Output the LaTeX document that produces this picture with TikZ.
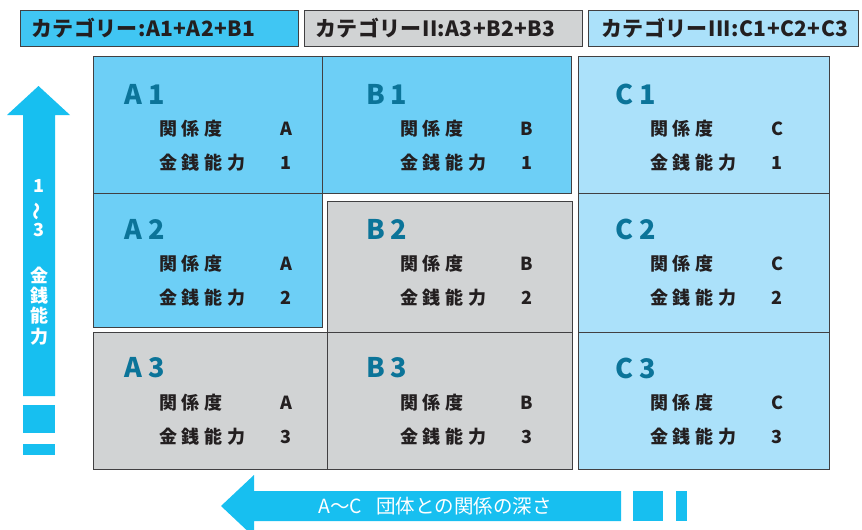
\documentclass[tikz,border=0pt]{standalone}
\usepackage{fontspec}
\setmainfont{Noto Sans CJK JP}
\newfontfamily\jpsp[LetterSpace=26]{Noto Sans CJK JP}
\newfontfamily\jpcat[LetterSpace=2]{Noto Sans CJK JP}
\definecolor{cBlue}{HTML}{6DCFF6}
\definecolor{cGray}{HTML}{D1D3D4}
\definecolor{cLight}{HTML}{ABE1FA}
\definecolor{cCat}{HTML}{40C6F3}
\definecolor{cArrow}{HTML}{17BFF0}
\definecolor{cLine}{HTML}{414042}
\definecolor{cLabel}{HTML}{0B7499}
\definecolor{cText}{HTML}{231F20}
\tikzset{
  cell/.style={draw=cLine, line width=0.9pt, inner sep=0pt, outer sep=0pt, anchor=north west},
  catbox/.style={draw=cLine, line width=0.9pt, inner sep=0pt, outer sep=0pt, anchor=north west, minimum height=36pt},
  cattext/.style={anchor=west, inner sep=0pt, font=\jpcat\bfseries\fontsize{21}{22}\selectfont, text=cText},
  celllab/.style={anchor=west, inner sep=0pt, font=\bfseries\fontsize{27}{28}\selectfont, text=cLabel},
  cellbody/.style={anchor=west, inner sep=0pt, font=\jpsp\bfseries\fontsize{18}{20}\selectfont, text=cText},
  cellval/.style={anchor=center, inner sep=0pt, font=\bfseries\fontsize{18}{20}\selectfont, text=cText},
  arrtext/.style={inner sep=0pt, text=white, font=\bfseries\fontsize{18}{19}\selectfont},
}
\newcommand\mycelltext[8]{%
  \node[celllab] (#1lab) at (#2,#5) {#6};
  \node[cellbody] (#1rel) at (#3,#5+35) {関係度};
  \node[cellval] (#1relv) at (#4,#5+35) {#7};
  \node[cellbody] (#1mon) at (#3,#5+69) {金銭能力};
  \node[cellval] (#1monv) at (#4,#5+69) {#8};
}
\begin{document}
\begin{tikzpicture}[x=1pt,y=-1pt]
\useasboundingbox (0,0) rectangle (862,530);
\clip (0,0) rectangle (862,530);
% category boxes
\node[catbox, fill=cCat, minimum width=278pt] (cat1) at (20,10) {};
\node[catbox, fill=cGray, minimum width=278pt] (cat2) at (304,10) {};
\node[catbox, fill=cLight, minimum width=270pt] (cat3) at (588,10) {};
\node[cattext] (cat1t) at (31,28) {カテゴリー:A1+A2+B1};
\node[cattext] (cat2t) at (315,28) {カテゴリーII:A3+B2+B3};
\node[cattext] (cat3t) at (601,28) {カテゴリーIII:C1+C2+C3};
% cells
\node[cell, fill=cBlue, minimum width=229pt, minimum height=137pt] (A1) at (93,56) {};
\node[cell, fill=cBlue, minimum width=249pt, minimum height=137pt] (B1) at (322,56) {};
\node[cell, fill=cBlue, minimum width=229pt, minimum height=134pt] (A2) at (93,193) {};
\node[cell, fill=cGray, minimum width=245pt, minimum height=131pt] (B2) at (327,201) {};
\node[cell, fill=cGray, minimum width=234pt, minimum height=137pt] (A3) at (93,332) {};
\node[cell, fill=cGray, minimum width=245pt, minimum height=137pt] (B3) at (327,332) {};
\node[cell, fill=cLight, minimum width=251pt, minimum height=137pt] (C1) at (578,56) {};
\node[cell, fill=cLight, minimum width=251pt, minimum height=139pt] (C2) at (578,193) {};
\node[cell, fill=cLight, minimum width=251pt, minimum height=137pt] (C3) at (578,332) {};
% cell texts
\mycelltext{a1}{124}{159}{286}{94}{A\hspace{6pt}1}{A}{1}
\mycelltext{a2}{124}{159}{286}{229}{A\hspace{6pt}2}{A}{2}
\mycelltext{a3}{124}{159}{286}{368}{A\hspace{6pt}3}{A}{3}
\mycelltext{b1}{366}{400}{527}{94}{B\hspace{6pt}1}{B}{1}
\mycelltext{b2}{366}{400}{527}{229}{B\hspace{6pt}2}{B}{2}
\mycelltext{b3}{366}{400}{527}{368}{B\hspace{6pt}3}{B}{3}
\mycelltext{c1}{615}{650}{777}{94}{C\hspace{6pt}1}{C}{1}
\mycelltext{c2}{615}{650}{777}{229}{C\hspace{6pt}2}{C}{2}
\mycelltext{c3}{615}{650}{777}{368}{C\hspace{6pt}3}{C}{3}
% vertical arrow
\fill[cArrow] (38.5,86) -- (70,115) -- (55,115) -- (55,396) -- (23,396) -- (23,115) -- (7,115) -- cycle;
\fill[cArrow] (23,405) rectangle (55,433);
\fill[cArrow] (23,444) rectangle (55,455);
\node[arrtext] (v1) at (39,186) {1};
\node[arrtext, rotate=90] (v2) at (39,211) {〜};
\node[arrtext] (v3) at (39,230) {3};
\node[arrtext] (v4) at (39,275) {金};
\node[arrtext] (v5) at (39,296) {銭};
\node[arrtext] (v6) at (39,316) {能};
\node[arrtext] (v7) at (39,337) {力};
% horizontal arrow
\fill[cArrow] (221,506) -- (254,475) -- (254,491) -- (621,491) -- (621,521) -- (254,521) -- (254,537) -- cycle;
\fill[cArrow] (633,491) rectangle (663,521);
\fill[cArrow] (676,491) rectangle (687,521);
\node[arrtext, font=\fontsize{19.5}{20}\selectfont] (htext) at (435,506) {A〜C\hspace{14pt}団体との関係の深さ};
\end{tikzpicture}
\end{document}
